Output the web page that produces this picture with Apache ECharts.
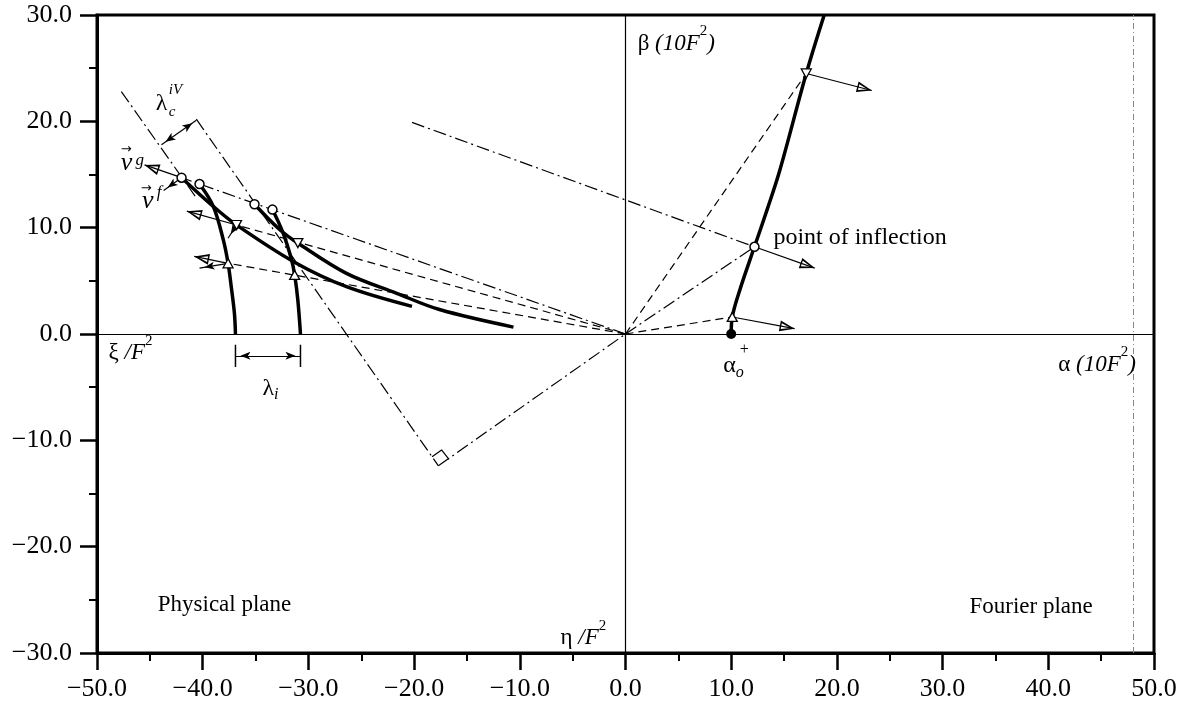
<!DOCTYPE html>
<html><head><meta charset="utf-8">
<script src="https://cdn.jsdelivr.net/npm/echarts@6/dist/echarts.min.js"></script>
<style>html,body{margin:0;padding:0;background:#fff}#c{width:1191px;height:710px}</style>
</head><body><div id="c"></div>
<script>
// ---------- tick labels ----------
const xTickLabels = ['−50.0','−40.0','−30.0','−20.0','−10.0','0.0','10.0','20.0','30.0','40.0','50.0'];
const yTickLabels = ['−30.0','−20.0','−10.0','0.0','10.0','20.0','30.0'];

// ---------- physical plane crest curves (ξ/F², η/F²) ----------
const crestOuterA = [[-42.0,14.7],[-39.0,12.0],[-36.8,10.25],[-31.4,6.8],[-26.4,4.45],[-20.2,2.6]];
const crestOuterB = [[-35.1,12.2],[-32.7,9.8],[-31.0,8.55],[-26.4,5.7],[-21.7,3.85],[-17.6,2.3],[-10.6,0.65]];
const crestInnerA = [[-40.3,14.1],[-39.0,12.0],[-38.05,8.85],[-37.6,6.65],[-37.3,4.45],[-37.0,1.95],[-36.9,0.0]];
const crestInnerB = [[-33.4,11.7],[-32.4,9.5],[-31.6,7.0],[-31.3,5.55],[-31.0,3.2],[-30.75,0.0]];

// ---------- Fourier plane curve (α, β) ----------
const fourierCurve = [[10.0,0.0],[10.1,1.6],[10.8,4.1],[12.2,8.2],[13.4,11.7],[14.6,15.4],[17.1,24.5],[18.8,30.0]];

// ---------- marked points ----------
const openCircles = [[-42.0,14.7],[-40.3,14.1],[-35.1,12.2],[-33.4,11.7],[12.2,8.2]];
const trianglesDown = [[-36.8,10.25],[-31.0,8.55],[17.1,24.5]];
const trianglesUp = [[-37.6,6.65],[-31.3,5.55],[10.1,1.6]];
const alphaZero = [[10.0,0.0]];

// ---------- construction lines ----------
const dashedRays = [
  [[0,0],[-36.8,10.25]],
  [[0,0],[-37.6,6.65]],
  [[0,0],[10.1,1.6]],
  [[0,0],[17.1,24.5]]
];
const dashDotLines = [
  [[0,0],[-42.0,14.7]],
  [[0,0],[12.2,8.2]],
  [[-20.2,19.9],[12.2,8.2]],
  [[-47.7,22.8],[-40.6,12.8]],
  [[-40.6,20.2],[-17.7,-12.4]],
  [[-17.7,-12.4],[0,0]]
];
const rightAngleMark = [[-18.3,-11.55],[-17.4,-10.9],[-16.7,-11.8]];

// ---------- velocity arrows ----------
const openArrows = [
  [[-42.0,14.7],[-45.5,15.9]],
  [[-36.8,10.25],[-41.5,11.55]],
  [[-37.6,6.65],[-40.8,7.3]],
  [[10.1,1.6],[16.0,0.5]],
  [[12.2,8.2],[17.9,6.2]],
  [[17.1,24.5],[23.3,22.9]]
];
const smallArrows = [
  [[-42.0,14.7],[-43.7,13.5]],
  [[-36.8,10.25],[-37.6,9.0]],
  [[-37.6,6.65],[-40.3,6.2]]
];
const lengthArrows = [
  [[-43.9,17.8],[-40.6,20.1]],
  [[-36.9,-2.05],[-30.75,-2.05]]
];
const bracketTicks = [
  [[-36.9,-1.0],[-36.9,-3.1]],
  [[-30.75,-1.0],[-30.75,-3.1]]
];

// ---------- build ----------
const serif = "'Liberation Serif','DejaVu Serif',serif";
const DASH = [8,5], DASHDOT = [13,4,2,4];
const openTri = 'path://M5,0L10,16L0,16Z M5,4.4L2.3,14.5L7.7,14.5Z';

function lineS(data, type, width, smooth) {
  return {type:'line', data, symbol:'none', silent:true, smooth: smooth || false, z:3,
    lineStyle:{color:'#000', width, type}, emphasis:{disabled:true}};
}
function arrowS(pairs, symbols, size, width) {
  return {type:'line', data:[], silent:true, z:4,
    markLine:{silent:true, symbol:symbols, symbolSize:size, symbolOffset:[[0,'50%'],[0,'50%']],
      label:{show:false},
      lineStyle:{color:'#000', width, type:'solid'}, emphasis:{disabled:true},
      data: pairs.map(p => [{coord:p[0]},{coord:p[1]}])}};
}

const rich = {
  n:{fontFamily:serif, fontSize:23, color:'#000', lineHeight:40},
  it:{fontFamily:serif, fontSize:23, fontStyle:'italic', color:'#000', lineHeight:40},
  sup:{fontFamily:serif, fontSize:15, color:'#000', verticalAlign:'top', lineHeight:15},
  n2:{fontFamily:serif, fontSize:24, color:'#000', lineHeight:30},
  sub2:{fontFamily:serif, fontSize:16, fontStyle:'italic', color:'#000', verticalAlign:'bottom', lineHeight:16},
  s:{fontFamily:serif, fontSize:16, color:'#000'},
  p:{fontFamily:serif, fontSize:23, color:'#000'},
  p2:{fontFamily:serif, fontSize:24, color:'#000'},
  l:{fontFamily:serif, fontSize:24, color:'#000'},
  it15:{fontFamily:serif, fontSize:15, fontStyle:'italic', color:'#000'},
  v:{fontFamily:serif, fontSize:26, fontStyle:'italic', color:'#000'},
  ar:{fontFamily:"'DejaVu Sans',sans-serif", fontSize:13, color:'#000'},
  gi:{fontFamily:serif, fontSize:17, fontStyle:'italic', color:'#000'}
};
const annotations = [
  {at:[1.1,27.3], text:'{n|β}{it| (10F}{sup|2}{it|)}'},
  {at:[40.9,-2.9], text:'{n|α}{it| (10F}{sup|2}{it|)}'},
  {at:[-48.95,-1.8], text:'{n|ξ}{it| /F}{sup|2}'},
  {at:[-34.4,-5.1], text:'{n2|λ}{sub2|i}'},
  {at:[9.2,-3.0], text:'{n2|α}{sub2|o}'},
  {at:[10.75,-1.5], text:'{s|+}'},
  {at:[13.95,9.1], text:'{p2|point of inflection}'},
  {at:[-6.2,-28.6], text:'{n|η}{it| /F}{sup|2}'},
  {at:[-44.3,-25.5], text:'{p|Physical plane}'},
  {at:[32.5,-25.7], text:'{p|Fourier plane}'},
  {at:[-44.5,21.7], text:'{l|λ}'},
  {at:[-43.25,20.9], text:'{it15|c}'},
  {at:[-43.25,22.95], text:'{it15|iV}'},
  {at:[-47.8,16.06], text:'{v|v}'},
  {at:[-47.8,17.3], text:'{ar|→}'},
  {at:[-46.4,16.3], text:'{gi|g}'},
  {at:[-45.8,12.45], text:'{v|v}'},
  {at:[-45.9,13.7], text:'{ar|→}'},
  {at:[-44.4,13.3], text:'{gi|f}'}
];

const series = [];
[crestOuterA, crestOuterB, crestInnerA, crestInnerB, fourierCurve].forEach(c => series.push(lineS(c, 'solid', 3.5, 0.35)));
dashedRays.forEach(d => series.push(lineS(d, DASH, 1.2)));
dashDotLines.forEach(d => series.push(lineS(d, DASHDOT, 1.2)));
series.push(lineS(rightAngleMark, 'solid', 1.2));
bracketTicks.forEach(d => series.push(lineS(d, 'solid', 1.5)));
series.push(arrowS(openArrows, ['none', openTri], [11,15], 1.2));
series.push(arrowS(smallArrows, ['none', 'arrow'], [6,10], 1.2));
series.push(arrowS(lengthArrows, ['arrow', 'arrow'], [6,10], 1.2));
// zero axes and the faint scan line
series.push({type:'line', data:[], silent:true, z:2,
  markLine:{silent:true, symbol:['none','none'], label:{show:false}, emphasis:{disabled:true},
    data:[
      {xAxis:0, lineStyle:{color:'#000', width:1.2, type:'solid'}},
      {yAxis:0, lineStyle:{color:'#000', width:1.2, type:'solid'}},
      {xAxis:48, lineStyle:{color:'#888', width:1, type:[6,3,1,3]}}
    ]}});
series.push({type:'scatter', data:openCircles, symbol:'circle', symbolSize:9, z:6, silent:true,
  itemStyle:{color:'#fff', borderColor:'#000', borderWidth:1.5, opacity:1}});
series.push({type:'scatter', data:trianglesDown, symbol:'triangle', symbolRotate:180, symbolSize:[10,9], z:6, silent:true,
  itemStyle:{color:'#fff', borderColor:'#000', borderWidth:1.3, opacity:1}});
series.push({type:'scatter', data:trianglesUp, symbol:'triangle', symbolSize:[10,9], z:6, silent:true,
  itemStyle:{color:'#fff', borderColor:'#000', borderWidth:1.3, opacity:1}});
series.push({type:'scatter', data:alphaZero, symbol:'circle', symbolSize:10, z:6, silent:true,
  itemStyle:{color:'#000', opacity:1}});
series.push({type:'scatter', silent:true, z:10, symbolSize:1, itemStyle:{color:'rgba(0,0,0,0)', opacity:1},
  data: annotations.map(a => ({value:a.at, label:{formatter:a.text}})),
  label:{show:true, position:'right', distance:0, color:'#000', opacity:1, rich}});

const axisCommon = {
  type:'value', splitLine:{show:false},
  axisLine:{show:true, onZero:false, lineStyle:{color:'#000', width:3}},
  axisTick:{show:true, inside:false, length:17, lineStyle:{color:'#000', width:2.5}},
  minorTick:{show:true, splitNumber:2, length:8, lineStyle:{color:'#000', width:2}}
};

const chart = echarts.init(document.getElementById('c'), null, {renderer:'canvas'});
chart.setOption({
  animation:false,
  backgroundColor:'#fff',
  grid:{left:97, right:37, top:15, bottom:57, show:true, borderColor:'#000', borderWidth:3, backgroundColor:'rgba(0,0,0,0)'},
  xAxis:Object.assign({}, axisCommon, {min:-50, max:50, interval:10, position:'bottom',
    axisLabel:{fontFamily:serif, fontSize:26, color:'#000', margin:23,
      formatter: v => xTickLabels[Math.round((v + 50) / 10)]}}),
  yAxis:Object.assign({}, axisCommon, {min:-30, max:30, interval:10, position:'left',
    axisLabel:{fontFamily:serif, fontSize:26, color:'#000', margin:25,
      formatter: v => yTickLabels[Math.round((v + 30) / 10)]}}),
  series
});
</script>
</body></html>
